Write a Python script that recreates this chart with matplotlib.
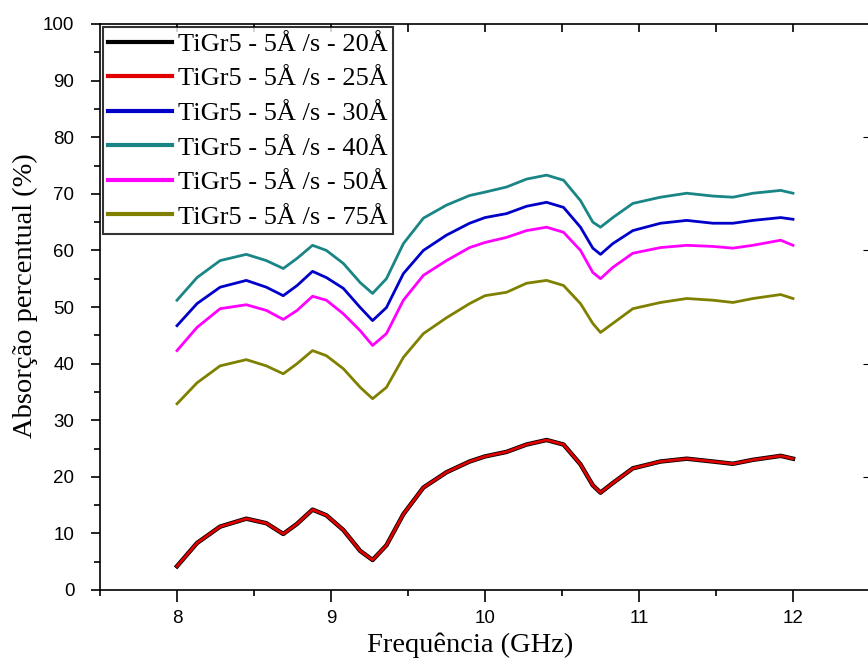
import numpy as np
import matplotlib.pyplot as plt
from matplotlib.ticker import MultipleLocator

# frequencia (GHz), pontos
freq = [8.0, 8.13, 8.28, 8.45, 8.58, 8.69, 8.78, 8.88, 8.97, 9.08, 9.19, 9.27,
        9.36, 9.47, 9.60, 9.75, 9.90, 10.0, 10.14, 10.27, 10.40, 10.51, 10.62,
        10.70, 10.75, 10.83, 10.96, 11.14, 11.31, 11.48, 11.61, 11.74, 11.92, 12.0]

abs_20 = [4.2, 8.3, 11.2, 12.6, 11.8, 9.9, 11.7, 14.2, 13.2, 10.6, 6.9, 5.3,
          7.9, 13.4, 18.1, 20.8, 22.7, 23.6, 24.4, 25.7, 26.5, 25.7, 22.2,
          18.5, 17.2, 18.9, 21.5, 22.7, 23.2, 22.7, 22.3, 23.0, 23.7, 23.2]
abs_25 = [4.2, 8.3, 11.2, 12.6, 11.8, 9.9, 11.7, 14.2, 13.2, 10.6, 6.9, 5.3,
          7.9, 13.4, 18.1, 20.8, 22.7, 23.6, 24.4, 25.7, 26.5, 25.7, 22.2,
          18.5, 17.2, 18.9, 21.5, 22.7, 23.2, 22.7, 22.3, 23.0, 23.7, 23.2]
abs_30 = [46.7, 50.6, 53.5, 54.7, 53.5, 52.0, 53.8, 56.3, 55.2, 53.3, 49.9, 47.6,
          49.9, 55.9, 60.0, 62.7, 64.8, 65.8, 66.5, 67.8, 68.5, 67.6, 64.1,
          60.4, 59.3, 61.2, 63.5, 64.8, 65.3, 64.8, 64.8, 65.3, 65.8, 65.5]
abs_40 = [51.2, 55.2, 58.2, 59.3, 58.2, 56.8, 58.6, 60.9, 60.0, 57.7, 54.3, 52.4,
          55.0, 61.2, 65.7, 68.0, 69.7, 70.3, 71.2, 72.6, 73.3, 72.4, 68.8,
          65.0, 64.1, 65.8, 68.3, 69.4, 70.1, 69.6, 69.4, 70.1, 70.6, 70.1]
abs_50 = [42.3, 46.4, 49.7, 50.4, 49.4, 47.8, 49.4, 51.9, 51.2, 48.8, 45.8, 43.2,
          45.3, 51.2, 55.6, 58.2, 60.5, 61.4, 62.3, 63.5, 64.1, 63.2, 60.0,
          56.1, 55.0, 57.0, 59.5, 60.5, 60.9, 60.7, 60.4, 60.9, 61.8, 60.9]
abs_75 = [32.9, 36.6, 39.6, 40.7, 39.6, 38.2, 40.0, 42.3, 41.4, 39.1, 35.8, 33.8,
          35.8, 41.1, 45.3, 48.1, 50.6, 52.0, 52.6, 54.2, 54.7, 53.8, 50.6,
          47.1, 45.5, 47.1, 49.7, 50.8, 51.5, 51.2, 50.8, 51.5, 52.2, 51.5]

series = [abs_20, abs_25, abs_30, abs_40, abs_50, abs_75]
labels = ['TiGr5 - 5Å /s - 20Å', 'TiGr5 - 5Å /s - 25Å', 'TiGr5 - 5Å /s - 30Å',
          'TiGr5 - 5Å /s - 40Å', 'TiGr5 - 5Å /s - 50Å', 'TiGr5 - 5Å /s - 75Å']
cores = ['black', '#e00000', '#0000c8', '#1a8585', '#ff00ff', '#808000']
larg = [3.2, 2.0, 2.0, 2.0, 2.0, 2.0]

serif = 'Liberation Serif'
plt.rcParams['font.family'] = 'Liberation Sans'

fig = plt.figure(figsize=(8.68, 6.62), dpi=100)
ax = fig.add_axes([100 / 868, 1 - 590 / 662, 770 / 868, 566 / 662])

for y, lab, c, lw in zip(series, labels, cores, larg):
    ax.plot(freq, y, color=c, lw=lw, label=lab, solid_joinstyle='round')

ax.set_xlim(7.5, 12.5)
ax.set_ylim(0, 100)
ax.xaxis.set_major_locator(MultipleLocator(1))
ax.xaxis.set_minor_locator(MultipleLocator(0.5))
ax.yaxis.set_major_locator(MultipleLocator(10))
ax.yaxis.set_minor_locator(MultipleLocator(5))
ax.tick_params(axis='x', which='major', direction='out', length=8.5, width=1.2,
               labelsize=13.5, pad=6)
ax.tick_params(axis='x', which='minor', direction='out', length=4, width=1.2)
ax.tick_params(axis='y', which='major', direction='out', length=6.5, width=1.2,
               labelsize=13.5, pad=12)
ax.tick_params(axis='y', which='minor', direction='out', length=4.5, width=1.2)

# ticks do topo para dentro
sec = ax.secondary_xaxis('top')
sec.set_xticks([8, 8.5, 9, 9.5, 10, 10.5, 11, 11.5, 12])
sec.tick_params(direction='in', length=6, width=1.2, labeltop=False)
sec.spines['top'].set_visible(False)

secy = ax.secondary_yaxis('right')
secy.set_yticks([20, 40, 60, 80])
secy.tick_params(direction='in', length=5, labelright=False)

for s in ax.spines.values():
    s.set_linewidth(1.2)

ax.set_xlabel('Frequência (GHz)', family=serif, fontsize=20.5)
ax.xaxis.set_label_coords((470 - 100) / 770, -0.075)
ax.set_ylabel('Absorção percentual (%)', family=serif, fontsize=20.5)
ax.yaxis.set_label_coords(-0.08, 0.52)

leg = ax.legend(loc='upper left', prop={'family': serif, 'size': 19},
                frameon=True, fancybox=False, borderaxespad=0.12,
                handlelength=2.42, handletextpad=0.23, labelspacing=0.42,
                borderpad=0.2)
leg.get_frame().set_edgecolor('black')
leg.get_frame().set_linewidth(1.5)
for h in leg.get_lines():
    h.set_linewidth(3)

fig.savefig('out.png', dpi=100)
